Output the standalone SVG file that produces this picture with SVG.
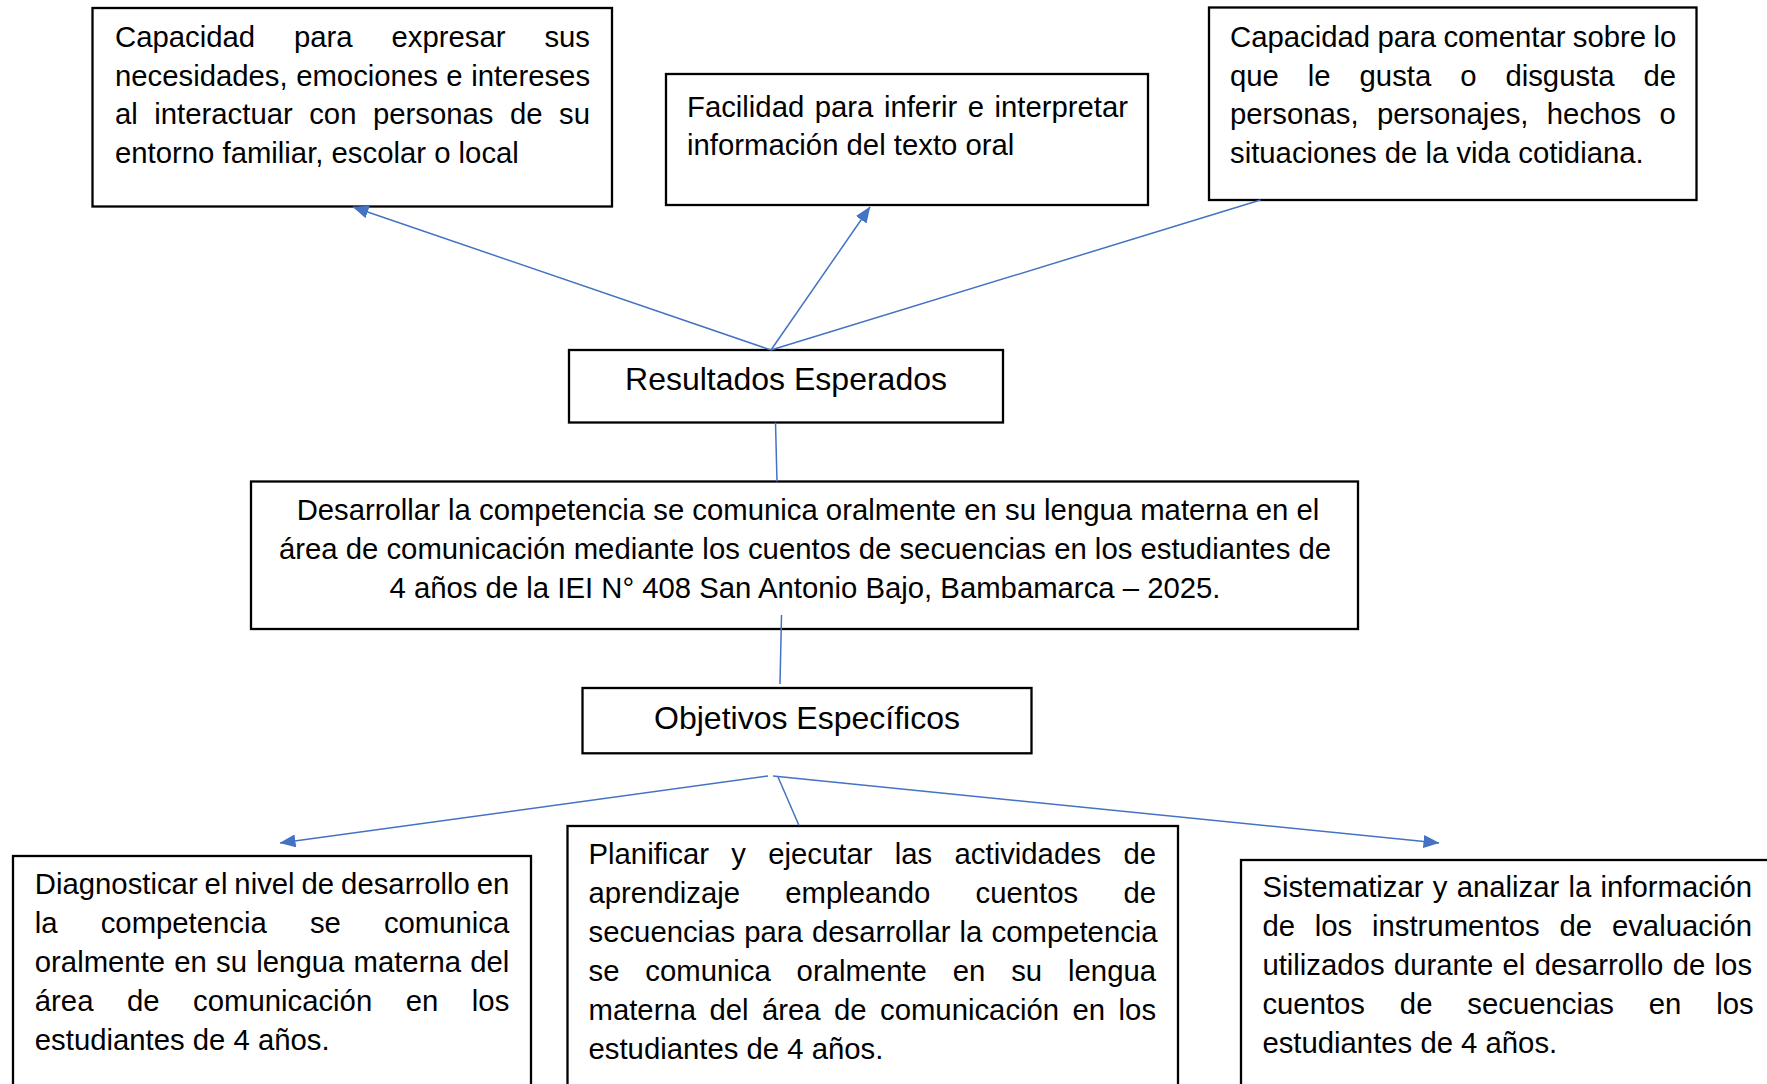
<svg xmlns="http://www.w3.org/2000/svg" width="1767" height="1084" viewBox="0 0 1767 1084">
<style>
.box{fill:#fff;stroke:#000;stroke-width:2.3}
.t{font-family:"Liberation Sans",Arial,sans-serif;font-size:29.3px;fill:#000}
.h{font-family:"Liberation Sans",Arial,sans-serif;font-size:32px;fill:#000;text-anchor:middle}
.c{text-anchor:middle}
.ln{stroke:#4472C4;stroke-width:1.5;fill:none}
</style>
<defs>
<marker id="arr" viewBox="0 0 16 13" refX="15.5" refY="6.5" markerWidth="16" markerHeight="13" markerUnits="userSpaceOnUse" orient="auto">
<path d="M0,0 L16,6.5 L0,13 Z" fill="#4472C4"/>
</marker>
</defs>
<rect width="1767" height="1084" fill="#fff"/>
<g id="n1">
<rect class="box" x="92.5" y="8" width="519.5" height="198.5"/>
<text class="t" x="115" y="47" word-spacing="30.77">Capacidad para expresar sus</text>
<text class="t" x="115" y="85.5" word-spacing="0.37">necesidades, emociones e intereses</text>
<text class="t" x="115" y="124" word-spacing="8.36">al interactuar con personas de su</text>
<text class="t" x="115" y="162.5">entorno familiar, escolar o local</text>
</g>
<g id="n2">
<rect class="box" x="666" y="74" width="482" height="131"/>
<text class="t" x="687" y="116.5" word-spacing="2.37">Facilidad para inferir e interpretar</text>
<text class="t" x="687" y="154.5">información del texto oral</text>
</g>
<g id="n3">
<rect class="box" x="1209" y="7.5" width="487.5" height="192.5"/>
<text class="t" x="1230" y="47" word-spacing="-0.8">Capacidad para comentar sobre lo</text>
<text class="t" x="1230" y="85.5" word-spacing="20.8">que le gusta o disgusta de</text>
<text class="t" x="1230" y="124" word-spacing="10.2">personas, personajes, hechos o</text>
<text class="t" x="1230" y="162.5">situaciones de la vida cotidiana.</text>
</g>
<g id="n4">
<rect class="box" x="569" y="350" width="434" height="72.5"/>
<text class="h" x="786" y="390">Resultados Esperados</text>
</g>
<g id="n5">
<rect class="box" x="251" y="481.5" width="1107" height="147.5"/>
<text class="t c" x="808" y="520">Desarrollar la competencia se comunica oralmente en su lengua materna en el</text>
<text class="t c" x="805" y="559">área de comunicación mediante los cuentos de secuencias en los estudiantes de</text>
<text class="t c" x="805" y="598">4 años de la IEI N° 408 San Antonio Bajo, Bambamarca – 2025.</text>
</g>
<g id="n6">
<rect class="box" x="582.5" y="688" width="449" height="65.3"/>
<text class="h" x="807" y="729">Objetivos Específicos</text>
</g>
<g id="n7">
<rect class="box" x="13" y="856" width="518" height="250"/>
<text class="t" x="34.8" y="894" word-spacing="-1.18">Diagnosticar el nivel de desarrollo en</text>
<text class="t" x="34.8" y="933" word-spacing="34.95">la competencia se comunica</text>
<text class="t" x="34.8" y="972" word-spacing="1.09">oralmente en su lengua materna del</text>
<text class="t" x="34.8" y="1011" word-spacing="25.39">área de comunicación en los</text>
<text class="t" x="34.8" y="1050">estudiantes de 4 años.</text>
</g>
<g id="n8">
<rect class="box" x="567.5" y="826" width="610.5" height="280"/>
<text class="t" x="588.5" y="864" word-spacing="14.17">Planificar y ejecutar las actividades de</text>
<text class="t" x="588.5" y="903" word-spacing="37.16">aprendizaje empleando cuentos de</text>
<text class="t" x="588.5" y="942" word-spacing="1.02">secuencias para desarrollar la competencia</text>
<text class="t" x="588.5" y="981" word-spacing="17.74">se comunica oralmente en su lengua</text>
<text class="t" x="588.5" y="1020" word-spacing="5.29">materna del área de comunicación en los</text>
<text class="t" x="588.5" y="1059">estudiantes de 4 años.</text>
</g>
<g id="n9">
<rect class="box" x="1241" y="860" width="560" height="250"/>
<text class="t" x="1262.4" y="897" word-spacing="1.10">Sistematizar y analizar la información</text>
<text class="t" x="1262.4" y="936" word-spacing="11.66">de los instrumentos de evaluación</text>
<text class="t" x="1262.4" y="975" word-spacing="1.19">utilizados durante el desarrollo de los</text>
<text class="t" x="1262.4" y="1014" word-spacing="26.72">cuentos de secuencias en los</text>
<text class="t" x="1262.4" y="1053">estudiantes de 4 años.</text>
</g>
<g id="connectors">
<line class="ln" x1="771" y1="350" x2="353" y2="207" marker-end="url(#arr)"/>
<line class="ln" x1="771" y1="350" x2="870" y2="207" marker-end="url(#arr)"/>
<line class="ln" x1="771" y1="350" x2="1260.5" y2="200"/>
<line class="ln" x1="775.5" y1="422.5" x2="777" y2="481.5"/>
<line class="ln" x1="781.5" y1="615" x2="780" y2="684"/>
<line class="ln" x1="768" y1="776" x2="280" y2="843" marker-end="url(#arr)"/>
<line class="ln" x1="778" y1="777" x2="799" y2="825.5"/>
<line class="ln" x1="773" y1="776" x2="1439" y2="843" marker-end="url(#arr)"/>
</g>
</svg>
